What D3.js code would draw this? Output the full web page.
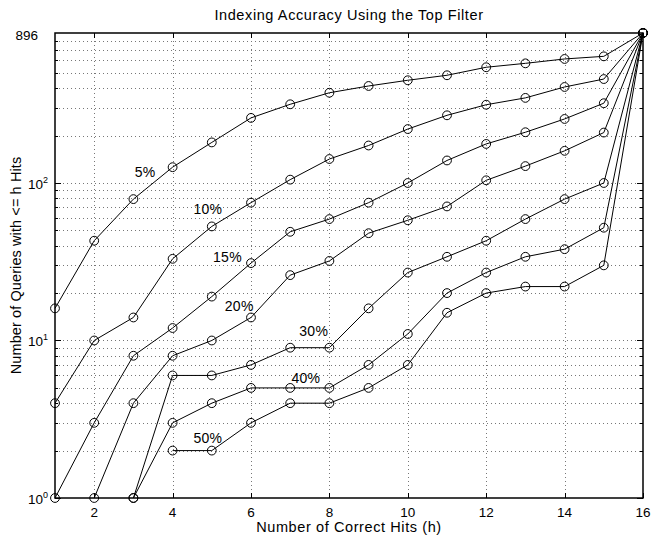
<!DOCTYPE html>
<html>
<head>
<meta charset="utf-8">
<script src="https://cdn.jsdelivr.net/npm/d3@7"></script>
<style>
  body { margin: 0; background: #fff; }
  svg { display: block; font-family: "Liberation Sans", Arial, sans-serif; }
</style>
</head>
<body>
<svg width="652" height="537"></svg>
<script>
// values (number of queries with <= h hits)
var hits = d3.range(1, 17);

var seriesNames = ["5%", "10%", "15%", "20%", "30%", "40%", "50%"];
var seriesStart = [1, 1, 1, 2, 3, 3, 4];

var q5  = [16, 43, 79, 126, 181, 259, 316, 374, 413, 449, 483, 543, 575, 613, 637, 896];
var q10 = [4, 10, 14, 33, 53, 75, 105, 142, 173, 220, 269, 314, 347, 407, 457, 896];
var q15 = [1, 3, 8, 12, 19, 31, 49, 59, 75, 100, 139, 177, 210, 255, 321, 896];
var q20 = [1, 4, 8, 10, 14, 26, 32, 48, 58, 71, 104, 128, 160, 209, 896];
var q30 = [1, 6, 6, 7, 9, 9, 16, 27, 34, 43, 59, 79, 100, 896];
var q40 = [1, 3, 4, 5, 5, 5, 7, 11, 20, 27, 34, 38, 52, 896];
var q50 = [2, 2, 3, 4, 4, 5, 7, 15, 20, 22, 22, 30, 896];

var seriesValues = [q5, q10, q15, q20, q30, q40, q50];

// where each curve's label sits, in data units (h, queries)
var labelH = [3.3, 4.9, 5.4, 5.7, 7.6, 7.4, 4.9];
var labelQ = [117, 68, 34, 16.6, 11.5, 5.8, 2.4];

var xTicks = [2, 4, 6, 8, 10, 12, 14, 16];
var yMajor = [1, 10, 100];
var yMax = 896;

var svg = d3.select("svg");

var plotLeft = 55, plotRight = 643, plotTop = 33, plotBottom = 498;

var x = d3.scaleLinear().domain([1, 16]).range([plotLeft, plotRight]);
var y = d3.scaleLog().domain([1, yMax]).range([plotBottom, plotTop]);

// every minor/major log position inside the range
var yGrid = [];
[1, 10, 100].forEach(function(base) {
    for (var k = 1; k <= 9; k++) {
        var v = base * k;
        if (v > 1 && v < yMax) yGrid.push(v);
    }
});

// grid
var grid = svg.append("g").attr("class", "grid")
    .attr("stroke", "#777")
    .attr("stroke-width", 1)
    .attr("stroke-dasharray", "1,3");

grid.selectAll("line.v")
    .data(xTicks.filter(function(d) { return d < 16; }))
    .enter().append("line")
    .attr("class", "v")
    .attr("x1", function(d) { return Math.round(x(d)) + 0.5; })
    .attr("x2", function(d) { return Math.round(x(d)) + 0.5; })
    .attr("y1", plotTop)
    .attr("y2", plotBottom);

grid.selectAll("line.h")
    .data(yGrid)
    .enter().append("line")
    .attr("class", "h")
    .attr("x1", plotLeft)
    .attr("x2", plotRight)
    .attr("y1", function(d) { return Math.round(y(d)) + 0.5; })
    .attr("y2", function(d) { return Math.round(y(d)) + 0.5; });

// curves
var line = d3.line()
    .x(function(d) { return x(d.h); })
    .y(function(d) { return y(d.q); });

var series = seriesValues.map(function(vals, i) {
    return vals.map(function(v, j) {
        return { h: hits[seriesStart[i] - 1 + j], q: v };
    });
});

var curves = svg.append("g").attr("class", "curves");

curves.selectAll("path")
    .data(series).enter()
    .append("path")
    .attr("d", line)
    .attr("fill", "none")
    .attr("stroke", "#000")
    .attr("stroke-width", 1);

series.forEach(function(s) {
    curves.append("g").selectAll("circle")
        .data(s).enter()
        .append("circle")
        .attr("cx", function(d) { return x(d.h); })
        .attr("cy", function(d) { return y(d.q); })
        .attr("r", 4.4)
        .attr("fill", "none")
        .attr("stroke", "#000")
        .attr("stroke-width", 1);
});

// curve labels
svg.append("g").attr("class", "labels")
    .selectAll("text")
    .data(seriesNames).enter()
    .append("text")
    .attr("x", function(d, i) { return x(labelH[i]); })
    .attr("y", function(d, i) { return y(labelQ[i]); })
    .attr("dy", "0.35em")
    .attr("text-anchor", "middle")
    .attr("font-size", 14)
    .attr("letter-spacing", 0.3)
    .text(function(d) { return d; });

// axes box
svg.append("rect")
    .attr("x", plotLeft)
    .attr("y", plotTop)
    .attr("width", plotRight - plotLeft)
    .attr("height", plotBottom - plotTop)
    .attr("fill", "none")
    .attr("stroke", "#000")
    .attr("stroke-width", 1.5);

var ticks = svg.append("g").attr("stroke", "#000").attr("stroke-width", 1);

// x ticks, bottom and top, pointing inward
xTicks.forEach(function(t) {
    var px = Math.round(x(t)) + 0.5;
    ticks.append("line").attr("x1", px).attr("x2", px).attr("y1", plotBottom).attr("y2", plotBottom - 5);
    ticks.append("line").attr("x1", px).attr("x2", px).attr("y1", plotTop).attr("y2", plotTop + 5);
});

// y ticks, left and right
yGrid.concat(yMajor).forEach(function(t) {
    var py = Math.round(y(t)) + 0.5;
    var len = yMajor.indexOf(t) >= 0 ? 6 : 3;
    ticks.append("line").attr("x1", plotLeft).attr("x2", plotLeft + len).attr("y1", py).attr("y2", py);
    ticks.append("line").attr("x1", plotRight).attr("x2", plotRight - len).attr("y1", py).attr("y2", py);
});

// x tick labels
svg.append("g").selectAll("text")
    .data(xTicks).enter()
    .append("text")
    .attr("x", function(d) { return x(d); })
    .attr("y", 517)
    .attr("text-anchor", "middle")
    .attr("font-size", 13.5)
    .text(function(d) { return d; });

// y tick labels as powers of ten
var yl = svg.append("g").selectAll("text")
    .data(yMajor).enter()
    .append("text")
    .attr("x", 48)
    .attr("y", function(d) { return y(d) + 6; })
    .attr("text-anchor", "end")
    .attr("font-size", 13.5);
yl.append("tspan").text("10");
yl.append("tspan")
    .attr("font-size", 9)
    .attr("dy", -6)
    .text(function(d) { return Math.round(Math.log10(d)); });

svg.append("text")
    .attr("x", 38)
    .attr("y", y(yMax) + 7)
    .attr("text-anchor", "end")
    .attr("font-size", 13.5)
    .text(yMax);

// titles
svg.append("text")
    .attr("x", (plotLeft + plotRight) / 2)
    .attr("y", 20)
    .attr("text-anchor", "middle")
    .attr("font-size", 14.5)
    .attr("letter-spacing", 0.6)
    .text("Indexing Accuracy Using the Top Filter");

svg.append("text")
    .attr("x", (plotLeft + plotRight) / 2)
    .attr("y", 532)
    .attr("text-anchor", "middle")
    .attr("font-size", 14.5)
    .attr("letter-spacing", 0.6)
    .text("Number of Correct Hits (h)");

svg.append("text")
    .attr("transform", "translate(21," + (plotTop + plotBottom) / 2 + ") rotate(-90)")
    .attr("text-anchor", "middle")
    .attr("font-size", 14.5)
    .attr("letter-spacing", 0.1)
    .text("Number of Queries with <= h Hits");
</script>
</body>
</html>
